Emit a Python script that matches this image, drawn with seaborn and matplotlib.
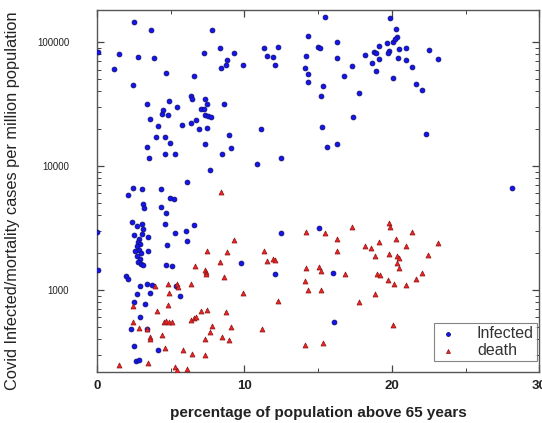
import matplotlib
matplotlib.use('Agg')
import matplotlib.pyplot as plt
import seaborn as sns
import pandas as pd
from matplotlib.ticker import FixedLocator, LogLocator, NullFormatter, FuncFormatter, MultipleLocator

# ---- data ----
infected_x = [2.53, 3.67, 7.83, 0.05, 1.51, 2.76, 3.89, 7.28, 8.33, 9.32, 8.83, 8.76, 8.42, 9.89, 1.15,
              4.68, 6.61, 2.46, 3.41, 4.87, 5.43, 6.36, 6.47, 7.33, 7.49, 8.64, 4.48, 4.43, 4.82, 7.06,
              7.26, 7.33, 7.56, 7.72, 3.62, 6.74, 6.36, 5.79, 4.16, 6.92, 7.47, 4.03, 4.60, 4.96, 8.96,
              7.33, 3.41, 9.10, 4.60, 5.32, 8.51, 3.53, 7.67, 6.09, 2.42, 3.03, 4.32,
              15.48, 19.89, 14.34, 16.31, 11.32, 12.29, 15.02, 15.14, 11.52, 11.93, 14.17, 16.27, 12.06,
              14.14, 14.30, 14.30, 17.31, 16.77, 18.17, 18.81, 18.89, 19.10, 19.14, 18.65, 18.89, 19.67,
              19.78, 20.07, 20.07, 15.32, 15.19, 17.74, 17.36, 11.15, 15.25, 15.63, 16.31, 12.47, 10.88,
              20.25, 20.35, 20.21, 20.50, 20.93, 22.49, 20.43, 20.93, 23.15, 21.36, 21.66, 22.04, 22.29,
              28.15, 19.71,
              2.08, 3.10, 3.17, 4.32, 4.98, 5.23, 4.68, 2.36, 2.70, 3.08, 3.14, 2.53, 3.03, 3.48, 2.87,
              2.76, 2.92, 2.70, 2.87, 2.58, 2.99, 2.74, 2.90, 2.80, 2.99, 3.10, 3.48, 4.60, 5.30, 6.04,
              6.61, 6.13, 4.73, 4.68, 5.11, 1.95, 2.12, 2.94, 3.37, 3.71, 2.74, 3.62, 5.63, 5.38, 2.51,
              3.26, 2.94, 2.29, 3.41, 2.49, 4.16, 2.65, 2.87, 9.76, 0.02, 0.05, 12.49, 15.09, 12.06,
              16.00, 16.09]
infected_y = [144000, 125600, 125600, 83600, 80500, 75300, 74700, 82000, 89000, 81100, 71600, 65300, 61700,
              65600, 60500, 56500, 53400, 44800, 31800, 33700, 29900, 36900, 34500, 34500, 31800, 31500,
              28100, 26200, 25600, 28800, 28800, 25600, 25300, 24800, 23800, 23700, 22100, 21300, 21000,
              20000, 20100, 17100, 17200, 15400, 17700, 15100, 14100, 13900, 12600, 12500, 12400, 11700,
              9330, 7460, 6680, 6560, 6560,
              159000, 155000, 112000, 100500, 89000, 91600, 91600, 89000, 77600, 75300, 76700, 74000,
              64900, 61700, 55000, 47900, 64400, 53200, 78500, 83600, 81100, 93300, 72900, 68000, 58100,
              97700, 84500, 100500, 51500, 44000, 36900, 38500, 24700, 19900, 20500, 14200, 15100, 11500,
              10400, 126500, 110000, 105000, 87800, 90000, 86100, 74700, 71600, 72500, 62800, 45800,
              41200, 18000, 6680, 82000,
              5830, 4910, 4610, 4640, 5550, 5420, 4200, 3560, 3270, 3400, 3090, 2780, 2810, 2660, 2560,
              2450, 2340, 2240, 2100, 2040, 1980, 1880, 1780, 1690, 1630, 1590, 2040, 3430, 2900, 2990,
              3330, 2480, 2310, 1590, 1550, 1300, 1220, 1080, 1110, 1100, 933, 951, 900, 1070, 805,
              776, 609, 484, 484, 353, 324, 267, 274, 1640, 2950, 1450, 2900, 3180, 1340,
              1370, 555]

death_x = [8.42, 9.30, 7.45, 8.81, 8.37, 6.65, 7.33, 7.38, 7.40, 8.62, 6.36, 4.84, 5.43, 5.52, 3.94,
           9.89, 4.89, 2.42, 4.84, 4.05, 7.04, 7.49, 8.76, 4.53, 4.68, 4.89, 5.09, 6.40, 6.56, 6.72,
           2.44, 2.83, 3.37, 7.83, 9.08, 7.69, 4.39, 3.62, 3.60, 8.47, 8.98, 7.33, 4.64, 5.82, 6.43,
           7.33, 1.49, 3.44, 5.30, 5.45, 6.09, 11.20, 12.27,
           14.17, 15.48, 17.31, 16.27, 16.31, 18.21, 18.60, 19.12, 18.87, 19.78, 19.84, 19.78, 11.32,
           11.52, 11.93, 12.08, 14.17, 15.07, 15.19, 16.79, 18.99, 19.17, 19.71, 20.12, 14.12, 14.28,
           15.19, 18.87, 17.74, 14.10, 15.30, 20.07,
           20.30, 21.38, 20.96, 23.13, 20.35, 20.45, 20.32, 20.45, 20.96, 21.64, 22.06, 22.45]
death_y = [6210, 2530, 2040, 2030, 1670, 1570, 1450, 1390, 1340, 1280, 1110, 1120, 1110, 1050, 1080,
           951, 940, 742, 757, 677, 677, 693, 668, 552, 565, 552, 549, 573, 591, 609,
           555, 491, 484, 513, 503, 461, 431, 416, 400, 416, 393, 403, 337, 324, 303,
           299, 248, 258, 240, 226, 231, 482, 815,
           2950, 2870, 3240, 2580, 2040, 2240, 2170, 2430, 1860, 3490, 3240, 1940, 2040,
           1710, 1780, 1750, 1490, 1520, 1430, 1350, 1350, 1320, 1200, 1110, 1170, 1000,
           990, 928, 791, 362, 369, 522,
           2580, 2940, 2260, 2380, 1880, 1810, 1640, 1500, 1100, 1230, 1370, 1910]

y_major = [1000, 10000, 100000]
x_major = [0, 10, 20, 30]

df_inf = pd.DataFrame({'x': infected_x, 'y': infected_y})
df_death = pd.DataFrame({'x': death_x, 'y': death_y})

sns.set_style('ticks')
plt.rcParams['font.family'] = ['Liberation Sans', 'DejaVu Sans']

fig = plt.figure(figsize=(5.42, 4.23), dpi=100)
ax = fig.add_axes([0.179, 0.121, 0.816, 0.855])

sns.scatterplot(data=df_inf, x='x', y='y', ax=ax, marker='o', s=12, color='#1414f0',
                edgecolor='#10107a', linewidth=0.6, label='Infected', zorder=3)
sns.scatterplot(data=df_death, x='x', y='y', ax=ax, marker='^', s=13, color='#ee2222',
                edgecolor='#8a1818', linewidth=0.5, label='death', zorder=3)

ax.set_yscale('log')
ax.set_xlim(0, 30)
ax.set_ylim(218, 181000)

ax.xaxis.set_major_locator(FixedLocator(x_major))
ax.xaxis.set_minor_locator(MultipleLocator(5))
ax.yaxis.set_major_locator(FixedLocator(y_major))
ax.yaxis.set_minor_locator(LogLocator(base=10, subs=range(2, 10)))
ax.yaxis.set_minor_formatter(NullFormatter())
ax.yaxis.set_major_formatter(FuncFormatter(lambda v, p: f'{int(round(v))}'))

ax.tick_params(which='both', direction='in', top=True, right=True, color='#444444')
ax.tick_params(which='major', length=5, width=0.9)
ax.tick_params(which='minor', length=3, width=0.7)
ax.tick_params(axis='y', which='major', labelsize=7, pad=20, labelcolor='#222222')
ax.tick_params(axis='x', which='major', labelsize=9.5, pad=6, labelcolor='#222222')
for lab in ax.get_xticklabels():
    lab.set_fontweight('bold')

for sp in ax.spines.values():
    sp.set_color('#555555')
    sp.set_linewidth(1.0)

ax.set_xlabel('percentage of population above 65 years', fontsize=11, fontweight='bold',
              color='#222222', labelpad=10)
ax.set_ylabel('Covid Infected/mortality cases per million population', fontsize=11.8,
              color='#222222')
ax.yaxis.set_label_coords(-0.175, 0.472)

leg = ax.legend(loc='lower right', bbox_to_anchor=(0.995, 0.03), fontsize=11.5, frameon=True,
                fancybox=False, edgecolor='#666666', borderaxespad=0.0, handletextpad=1.1,
                handlelength=1.4, borderpad=0.2, labelspacing=0.1, markerscale=0.8)
leg.get_frame().set_linewidth(0.8)
for t in leg.get_texts():
    t.set_color('#333333')

fig.savefig('out.png', dpi=100)
